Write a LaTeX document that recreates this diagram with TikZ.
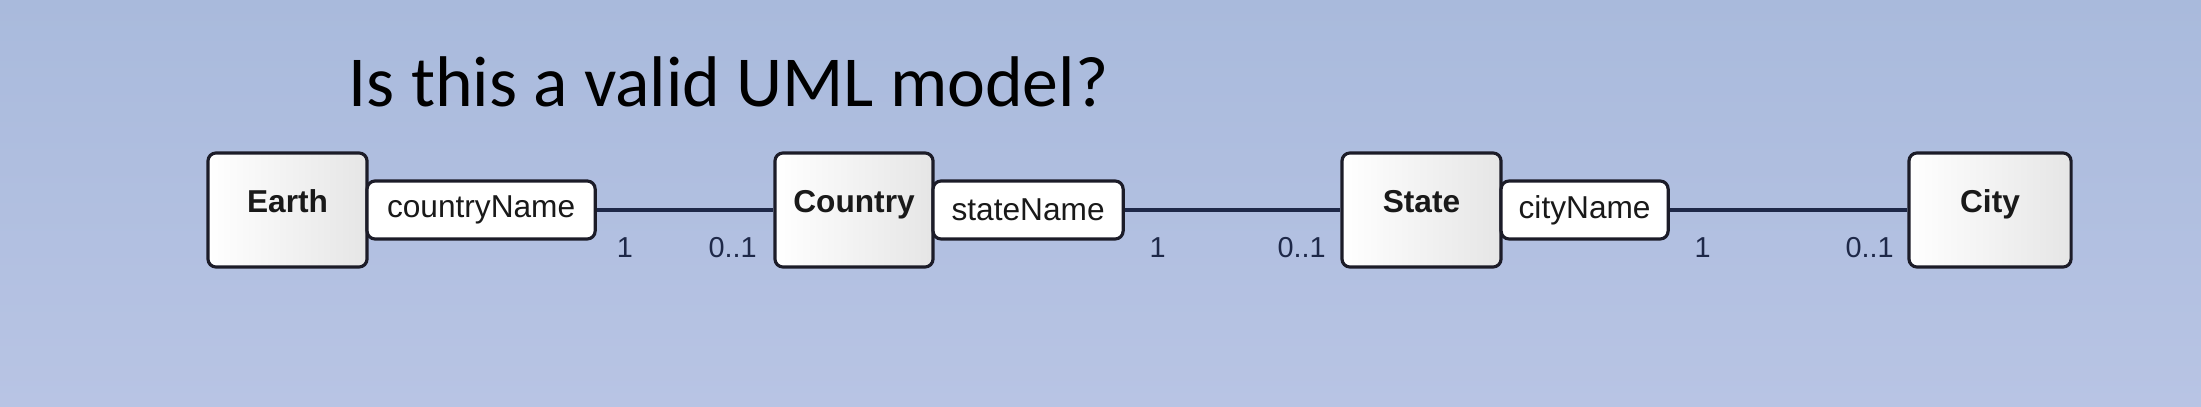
\documentclass[tikz,border=0pt]{standalone}
\usepackage{fontspec}
\setmainfont{Liberation Sans}
\newfontfamily\titlefont{Carlito}
\usepackage{tikz}
\usetikzlibrary{positioning}
\definecolor{bgtop}{RGB}{169,186,220}
\definecolor{bgbottom}{RGB}{184,196,228}
\definecolor{edge}{RGB}{28,28,40}
\definecolor{wire}{RGB}{30,40,72}
\tikzstyle{classbox} = [draw=edge,line width=0.9pt,rounded corners=2.3pt,left color=white,right color=black!10,minimum height=1.14cm,text height=7.5pt,text depth=5.8pt,inner sep=0pt,font=\fontsize{9}{10}\selectfont\bfseries,text=black!90]
\tikzstyle{attrbox} = [draw=edge,line width=0.9pt,rounded corners=2.3pt,fill=white,minimum height=0.58cm,inner sep=0pt,font=\fontsize{9}{10}\selectfont,text=black!90]
\tikzstyle{mult} = [inner sep=0pt,font=\fontsize{8.2}{9}\selectfont,text=wire]
\tikzstyle{assoc} = [draw=wire,line width=1pt]

\begin{document}
\begin{tikzpicture}[x=0.01cm,y=0.01cm]

\shade[top color=bgtop,bottom color=bgbottom] (0,0) rectangle (2201,406);
\useasboundingbox (0,0) rectangle (2201,406);

\node[inner sep=0pt,anchor=base west,font=\titlefont\fontsize{20.4}{24}\selectfont] (title) at (348,299) {Is this a valid UML model?};

% classes
\node[classbox,minimum width=1.59cm] (earth) at (287.5,196) {Earth};
\node[classbox,minimum width=1.58cm] (country) at (854,196) {Country};
\node[classbox,minimum width=1.59cm] (state) at (1421.5,196) {State};
\node[classbox,minimum width=1.62cm] (city) at (1990,196) {City};

% attributes
\node[attrbox,minimum width=2.28cm,right=-0.9pt of earth] (countryname) {countryName};
\node[attrbox,minimum width=1.90cm,right=-0.9pt of country] (statename) {stateName};
\node[attrbox,minimum width=1.67cm,right=-0.9pt of state] (cityname) {cityName};

% associations
\draw[assoc] (countryname.east) -- (country.west);
\draw[assoc] (statename.east) -- (state.west);
\draw[assoc] (cityname.east) -- (city.west);

\node[mult] (m1) at ([shift={(28,-7)}]countryname.south east) {1};
\node[mult,anchor=east] (m2) at ([shift={(-16,21)}]country.south west) {0..1};
\node[mult] (m3) at ([shift={(33,-7)}]statename.south east) {1};
\node[mult,anchor=east] (m4) at ([shift={(-14,21)}]state.south west) {0..1};
\node[mult] (m5) at ([shift={(33,-7)}]cityname.south east) {1};
\node[mult,anchor=east] (m6) at ([shift={(-13,21)}]city.south west) {0..1};

\end{tikzpicture}
\end{document}
